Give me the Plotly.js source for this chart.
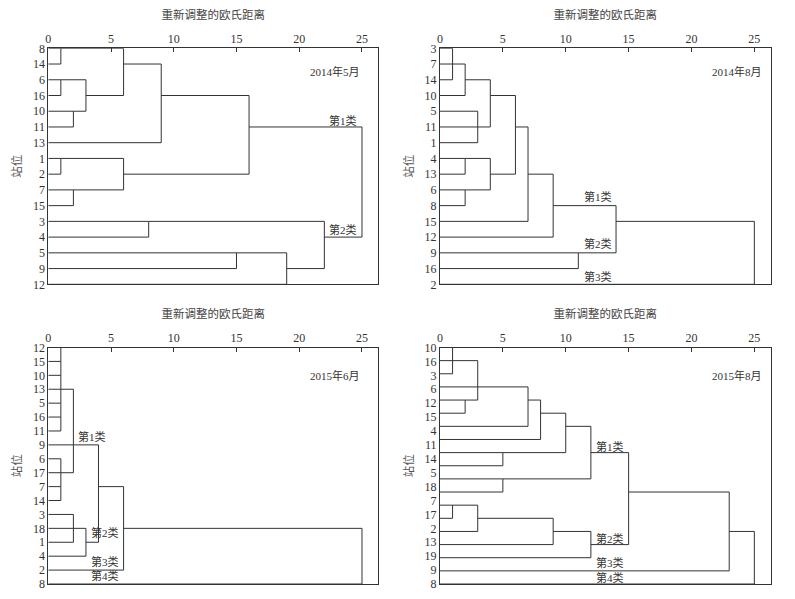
<!DOCTYPE html>
<html><head><meta charset="utf-8">
<script src="https://cdn.plot.ly/plotly-3.0.1.min.js"></script>
<style>body{margin:0;background:#fff}</style>
</head><body><div id="chart" style="width:795px;height:599px"></div>
<script>
// ---- data ----
const xTickVals = [0, 5, 10, 15, 20, 25];
const axisTitleX = '重新调整的欧氏距离';
const axisTitleY = '站位';

// 2014年5月
const leaves1 = ['8','14','6','16','10','11','13','1','2','7','15','3','4','5','9','12'];
const mergeKids1 = [['8','14'],['6','16'],['10','11'],[1,2],[0,3],[4,'13'],['1','2'],['7','15'],[6,7],[5,8],['3','4'],['5','9'],[11,'12'],[10,12],[9,13]];
const mergeHeights1 = [1,1,2,3,6,9,1,2,6,16,8,15,19,22,25];

// 2014年8月
const leaves2 = ['3','7','14','10','5','11','1','4','13','6','8','15','12','9','16','2'];
const mergeKids2 = [['3','7','14'],[0,'10'],['5','11','1'],[1,2],['4','13'],['6','8'],[4,5],[3,6],[7,'15'],[8,'12'],['9','16'],[9,10],[11,'2']];
const mergeHeights2 = [1,2,3,4,2,2,4,6,7,9,11,14,25];

// 2015年6月
const leaves3 = ['12','15','10','13','5','16','11','9','6','17','7','14','3','18','1','4','2','8'];
const mergeKids3 = [['12','15','10','13','5','16','11'],['6','17','7','14'],[0,'9',1],['3','18','1'],[3,'4'],[2,4],[5,'2'],[6,'8']];
const mergeHeights3 = [1,1,2,2,3,4,6,25];

// 2015年8月 (19 drawn rows, 18 printed labels; unlabeled row named 'x')
const leaves4 = ['10','16','3','6','12','15','4','11','x','14','5','18','7','17','2','13','19','9','8'];
const labels4 = ['10','16','3','6','12','15','4','11','14','5','18','7','17','2','13','19','9','8'];
const mergeKids4 = [['10','16','3'],['12','15'],[0,'6',1],[2,'4'],[3,'11'],['x','14'],[4,5],['5','18'],[6,7],['7','17'],[9,'2'],[10,'13'],[11,'19'],[8,12],[13,'9'],[14,'8']];
const mergeHeights4 = [1,2,3,7,8,5,10,5,12,1,3,9,12,15,23,25];

const panelDates = ['2014年5月','2014年8月','2015年6月','2015年8月'];

// ---- build dendrogram segments ----
function dendro(leaves, kids, heights) {
  const leafRow = {};
  leaves.forEach((l, i) => leafRow[l] = i);
  const outRow = [];
  const xs = [], ys = [];
  kids.forEach((ks, m) => {
    const h = heights[m];
    const rows = ks.map(k => typeof k === 'number' ? outRow[k] : leafRow[k]).sort((a, b) => a - b);
    ks.forEach(k => {
      if (typeof k === 'number') { xs.push(heights[k], h, null); ys.push(outRow[k], outRow[k], null); }
      else { xs.push(0, h, null); ys.push(leafRow[k], leafRow[k], null); }
    });
    xs.push(h, h, null); ys.push(rows[0], rows[rows.length - 1], null);
    const n = rows.length;
    outRow[m] = Math.floor((rows[Math.floor((n - 1) / 2)] + rows[Math.ceil((n - 1) / 2)]) / 2);
  });
  return {xs, ys};
}

const panels = [
  {leaves: leaves1, labels: leaves1, kids: mergeKids1, h: mergeHeights1},
  {leaves: leaves2, labels: leaves2, kids: mergeKids2, h: mergeHeights2},
  {leaves: leaves3, labels: leaves3, kids: mergeKids3, h: mergeHeights3},
  {leaves: leaves4, labels: labels4, kids: mergeKids4, h: mergeHeights4}
];

const W = 795, H = 599;
const xDom = [[48.3/W, 378.3/W], [440/W, 770.7/W], [48.3/W, 378.3/W], [440/W, 770.7/W]];
const yDom = [[1-284.3/H, 1-48.3/H], [1-284.3/H, 1-48.3/H], [1-584/H, 1-347.5/H], [1-584/H, 1-347.5/H]];

const serif = '"Liberation Serif", "Noto Sans CJK SC", serif';
const lineCol = '#333';
const traces = [];
const layout = {
  width: W, height: H, margin: {l: 0, r: 0, t: 0, b: 0},
  paper_bgcolor: '#fff', plot_bgcolor: '#fff', showlegend: false,
  annotations: []
};

panels.forEach((p, i) => {
  const s = i === 0 ? '' : String(i + 1);
  const d = dendro(p.leaves, p.kids, p.h);
  traces.push({type: 'scatter', mode: 'lines', x: d.xs, y: d.ys, xaxis: 'x' + s, yaxis: 'y' + s,
    line: {color: lineCol, width: 1}, cliponaxis: false, hoverinfo: 'skip'});
  const nRows = p.leaves.length;
  const nLab = p.labels.length;
  layout['xaxis' + s] = {
    domain: xDom[i], anchor: 'y' + s, side: 'top', range: [0, 26.3],
    tickvals: xTickVals, ticks: 'inside', ticklen: 4, tickcolor: lineCol,
    showgrid: false, zeroline: false, showline: true, mirror: true, linecolor: lineCol, linewidth: 1,
    tickfont: {family: serif, size: 12, color: '#333'},
    title: {text: axisTitleX, font: {family: serif, size: 11.5, color: '#444'}, standoff: 9},
    fixedrange: true
  };
  layout['yaxis' + s] = {
    domain: yDom[i], anchor: 'x' + s, range: [nRows - 1, 0],
    tickvals: p.labels.map((_, j) => j * (nRows - 1) / (nLab - 1)), ticktext: p.labels,
    ticks: '', showgrid: false, zeroline: false, showline: true, mirror: true, linecolor: lineCol, linewidth: 1,
    tickfont: {family: serif, size: 12, color: '#333'},
    title: {text: axisTitleY, font: {family: serif, size: 11.5, color: '#555'}, standoff: 8},
    fixedrange: true
  };
});

const ann = (i, text, x, y, xanchor) => {
  const s = i === 0 ? '' : String(i + 1);
  layout.annotations.push({xref: 'x' + s, yref: 'y' + s, x: x, y: y, text: text, showarrow: false,
    xanchor: xanchor || 'center', yanchor: 'middle', font: {family: serif, size: 11, color: '#333'}});
};
ann(0, panelDates[0], 25.0, 1.5, 'right');
ann(1, panelDates[1], 25.8, 1.5, 'right');
ann(2, panelDates[2], 25.0, 2.0, 'right');
ann(3, panelDates[3], 25.8, 2.15, 'right');
ann(0, '第1类', 23.5, 4.6); ann(0, '第2类', 23.5, 11.5);
ann(1, '第1类', 12.6, 9.4); ann(1, '第2类', 12.6, 12.4); ann(1, '第3类', 12.6, 14.5);
ann(2, '第1类', 3.45, 6.4); ann(2, '第2类', 4.5, 13.3); ann(2, '第3类', 4.5, 15.4); ann(2, '第4类', 4.5, 16.4);
ann(3, '第1类', 13.5, 7.5); ann(3, '第2类', 13.5, 14.5); ann(3, '第3类', 13.5, 16.4); ann(3, '第4类', 13.5, 17.5);

Plotly.newPlot('chart', traces, layout, {staticPlot: true, displayModeBar: false});
</script>
</body></html>
